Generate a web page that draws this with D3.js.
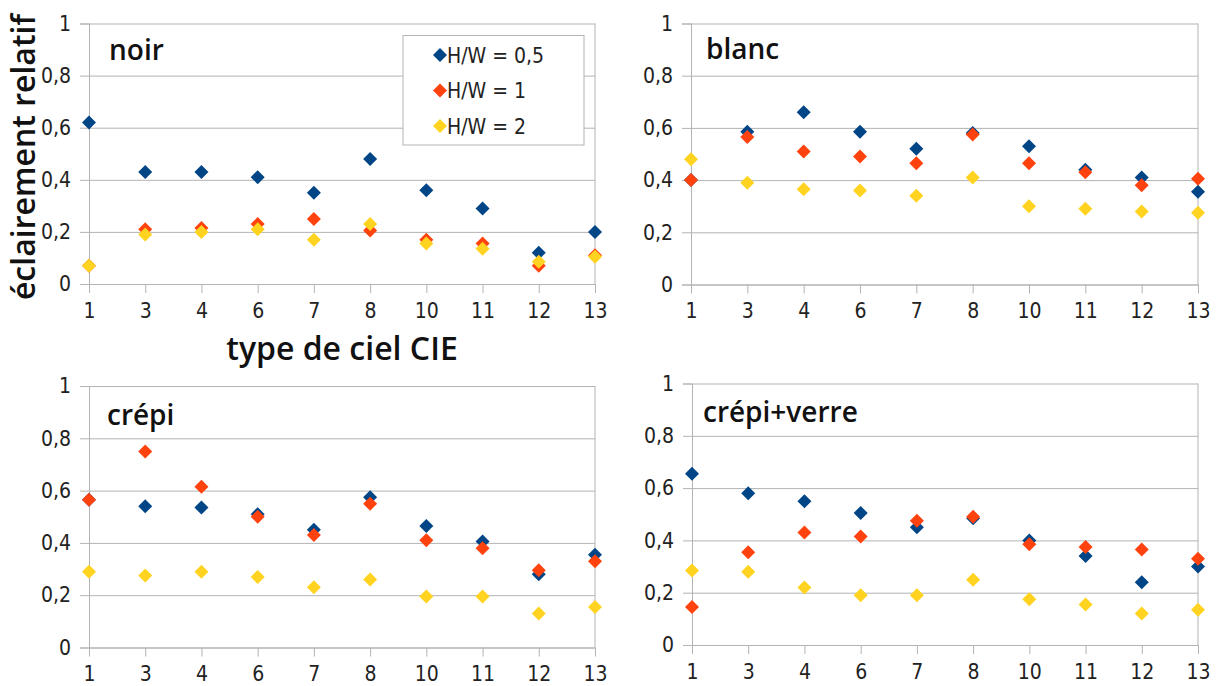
<!DOCTYPE html>
<html><head><meta charset="utf-8">
<script src="https://cdn.jsdelivr.net/npm/d3@7"></script>
<style>body{margin:0;background:#fff}</style>
</head><body><svg id="c" width="1219" height="686"></svg>
<script>
// ---- data ----
const categories = ["1","3","4","6","7","8","10","11","12","13"];
const seriesNames = ["H/W = 0,5","H/W = 1","H/W = 2"];
const seriesColors = ["#004586","#ff420e","#ffd320"];
const yTicks = [0, 0.2, 0.4, 0.6, 0.8, 1];
const panelNames = ["noir","blanc","crépi","crépi+verre"];

const noirHW05 = [0.62,0.43,0.43,0.41,0.35,0.48,0.36,0.29,0.12,0.20];
const noirHW1  = [0.07,0.21,0.215,0.23,0.25,0.205,0.17,0.155,0.07,0.11];
const noirHW2  = [0.07,0.19,0.20,0.21,0.17,0.23,0.155,0.135,0.085,0.105];

const blancHW05 = [0.40,0.585,0.66,0.585,0.52,0.58,0.53,0.44,0.41,0.355];
const blancHW1  = [0.40,0.565,0.51,0.49,0.465,0.575,0.465,0.43,0.38,0.405];
const blancHW2  = [0.48,0.39,0.365,0.36,0.34,0.41,0.30,0.29,0.28,0.275];

const crepiHW05 = [0.565,0.54,0.535,0.51,0.45,0.575,0.465,0.405,0.28,0.355];
const crepiHW1  = [0.565,0.75,0.615,0.50,0.43,0.55,0.41,0.38,0.295,0.33];
const crepiHW2  = [0.29,0.275,0.29,0.27,0.23,0.26,0.195,0.195,0.13,0.155];

const verreHW05 = [0.655,0.58,0.55,0.505,0.45,0.485,0.40,0.34,0.24,0.30];
const verreHW1  = [0.145,0.355,0.43,0.415,0.475,0.49,0.385,0.375,0.365,0.33];
const verreHW2  = [0.285,0.28,0.22,0.19,0.19,0.25,0.175,0.155,0.12,0.135];

const panelSeries = [
  [noirHW05, noirHW1, noirHW2],
  [blancHW05, blancHW1, blancHW2],
  [crepiHW05, crepiHW1, crepiHW2],
  [verreHW05, verreHW1, verreHW2]
];

// ---- layout ----
const layout = [
  {x0: 89,  x1: 595,  yt: 23.5,  yb: 284,   lx: 20, ly: 36},
  {x0: 691, x1: 1198, yt: 23.5,  yb: 284.5, lx: 15, ly: 35},
  {x0: 89,  x1: 595,  yt: 386,   yb: 647.5, lx: 18, ly: 39},
  {x0: 692, x1: 1198, yt: 383.5, yb: 645,   lx: 11, ly: 38}
];
const gridColor = "#b3b3b3";
const tickFont = "'DejaVu Sans Condensed','DejaVu Sans',sans-serif";
const titleFont = "'Open Sans',sans-serif";
const R = 7;
const diamond = r => `M0,${-r}L${r},0L0,${r}L${-r},0Z`;
const loc = d3.formatLocale({decimal: ",", thousands: " ", grouping: [3], currency: ["", ""]});
const fmt = loc.format("~g");

const svg = d3.select("#c");

layout.forEach((L, pi) => {
  const w = L.x1 - L.x0, h = L.yb - L.yt;
  const g = svg.append("g").attr("transform", `translate(${L.x0},${L.yt})`);
  const x = d3.scalePoint().domain(categories).range([0, w]).padding(0);
  const y = d3.scaleLinear().domain([0, 1]).range([h, 0]);

  // gridlines
  const grid = g.append("g").call(d3.axisLeft(y).tickValues(yTicks).tickSize(-w).tickFormat(""));
  grid.select(".domain").remove();
  grid.selectAll("line").attr("stroke", gridColor);

  // y axis
  const ya = g.append("g").call(d3.axisLeft(y).tickValues(yTicks).tickSize(9).tickPadding(9).tickFormat(fmt));
  ya.select(".domain").attr("stroke", gridColor);
  ya.selectAll("line").attr("stroke", gridColor);
  ya.selectAll("text").attr("font-family", tickFont).attr("font-size", 21).attr("fill", "#222");

  // x axis
  const xa = g.append("g").attr("transform", `translate(0,${h})`)
    .call(d3.axisBottom(x).tickSize(9).tickPadding(10).tickSizeOuter(0));
  xa.select(".domain").attr("stroke", gridColor);
  xa.selectAll("line").attr("stroke", gridColor);
  xa.selectAll("text").attr("font-family", tickFont).attr("font-size", 21).attr("fill", "#222");

  // right border
  g.append("line").attr("x1", w).attr("x2", w).attr("y1", 0).attr("y2", h).attr("stroke", gridColor);

  // panel label
  g.append("text").attr("x", L.lx).attr("y", L.ly).text(panelNames[pi])
    .attr("font-family", titleFont).attr("font-weight", 600).attr("font-size", 28).attr("fill", "#111");

  // points
  panelSeries[pi].forEach((vals, si) => {
    g.append("g").selectAll("path").data(vals).join("path")
      .attr("d", diamond(R))
      .attr("transform", (d, i) => `translate(${x(categories[i])},${y(d)})`)
      .attr("fill", seriesColors[si]);
  });

  if (pi === 0) {
    // legend
    const lg = g.append("g").attr("transform", `translate(${403 - L.x0},${35.5 - L.yt})`);
    lg.append("rect").attr("width", 181).attr("height", 109.5).attr("fill", "#fff").attr("stroke", gridColor);
    seriesNames.forEach((n, si) => {
      const row = lg.append("g").attr("transform", `translate(37,${19.5 + si * 35.5})`);
      row.append("path").attr("d", diamond(R)).attr("fill", seriesColors[si]);
      row.append("text").attr("x", 7).attr("dy", "0.36em").text(n)
        .attr("font-family", tickFont).attr("font-size", 21).attr("fill", "#222");
    });
  }
});

// axis titles
svg.append("text").attr("transform", "translate(24,157) rotate(-90)")
  .attr("text-anchor", "middle").attr("dy", "0.35em").text("éclairement relatif")
  .attr("font-family", titleFont).attr("font-weight", 600).attr("font-size", 32).attr("fill", "#111");
svg.append("text").attr("x", 342).attr("y", 360)
  .attr("text-anchor", "middle").text("type de ciel CIE")
  .attr("font-family", titleFont).attr("font-weight", 600).attr("font-size", 32).attr("fill", "#111");
</script></body></html>
